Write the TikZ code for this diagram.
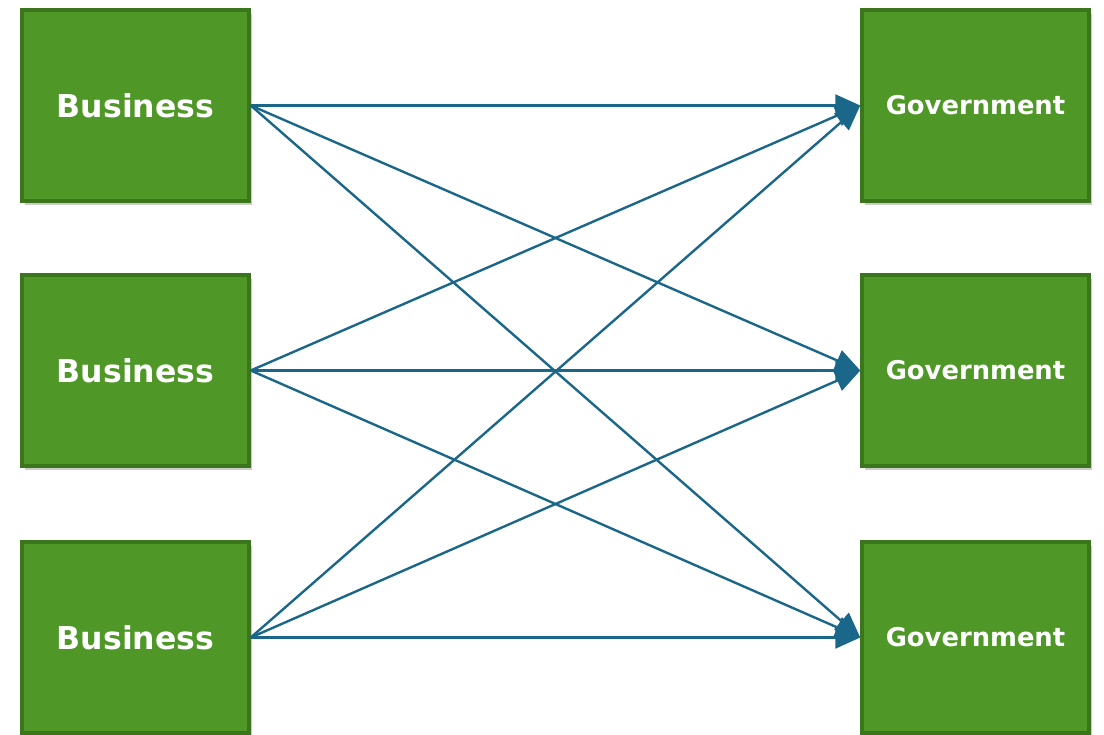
\documentclass[tikz,border=0pt]{standalone}
\usepackage{fontspec}
\setmainfont{DejaVu Sans}
\usetikzlibrary{arrows.meta, positioning, shadows}
\definecolor{boxgreen}{RGB}{79,152,39}
\definecolor{boxedge}{RGB}{59,118,28}
\definecolor{linkblue}{RGB}{27,103,138}

\begin{document}
\begin{tikzpicture}[x=1pt, y=-1pt,
  gbox/.style={draw=boxedge, fill=boxgreen, line width=3.5pt, minimum width=227pt, minimum height=191pt, text=white, drop shadow={shadow xshift=3pt, shadow yshift=-4pt, opacity=0.4}},
  bfont/.style={font=\bfseries\fontsize{31.5}{31.5}\selectfont},
  gfont/.style={font=\bfseries\fontsize{25.8}{25.8}\selectfont},
  link/.style={draw=linkblue, line width=2.4pt, -{Triangle[length=25pt,width=22pt]}}
]
  \useasboundingbox (0,0) rectangle (1104,735);
  % business side
  \node[gbox, bfont] (b1) at (135.5,105.5) {Business};
  \node[gbox, bfont] (b2) at (135.5,370.5) {Business};
  \node[gbox, bfont] (b3) at (135.5,637.5) {Business};
  % government side
  \node[gbox, gfont] (g1) at (975.5,105.5) {Government};
  \node[gbox, gfont] (g2) at (975.5,370.5) {Government};
  \node[gbox, gfont] (g3) at (975.5,637.5) {Government};
  % every business to every government
  \foreach \i in {1,2,3}
    \foreach \j in {1,2,3}
      \draw[link] (b\i.east) -- (g\j.west);
\end{tikzpicture}
\end{document}
